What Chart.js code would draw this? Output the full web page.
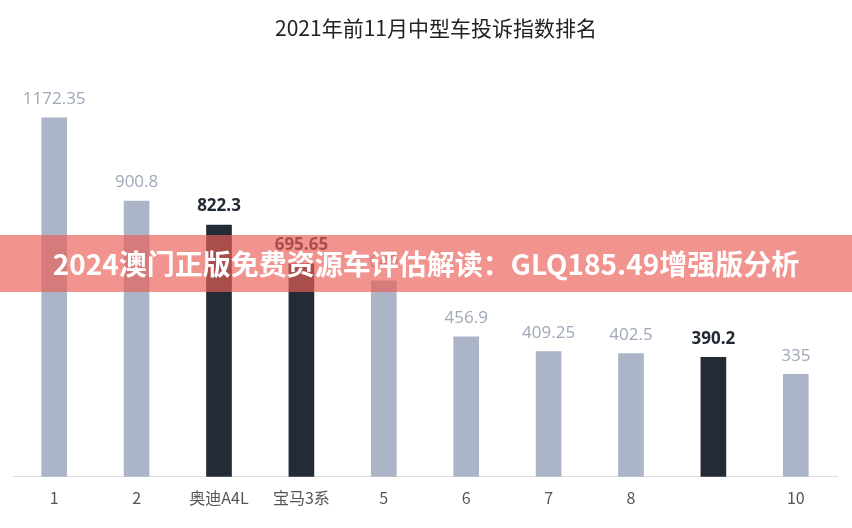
<!DOCTYPE html>
<html lang="zh-CN">
<head>
  <meta charset="UTF-8" />
  <title>2021年前11月中型车投诉指数排名</title>
  <script src="https://cdn.jsdelivr.net/npm/chart.js"></script>
  <style>
    html, body { margin: 0; padding: 0; background: #fff; }
    .wrap { position: relative; width: 852px; height: 528px; }
    #rankChart { display: block; }
    .chart-title {
      position: absolute; left: 20px; width: 832px; top: 12px; margin: 0;
      text-align: center; color: #222;
      font: normal 21px "Noto Sans CJK SC", sans-serif;
    }
    /* overlay banner across the middle */
    .banner {
      position: absolute; left: 0; top: 235px; width: 852px; height: 57px;
      background: rgba(234, 96, 88, 0.68);
      color: #fff; font: bold 28px "Noto Sans CJK SC", sans-serif;
      line-height: 57px; text-align: center;
    }
  </style>
</head>
<body>
  <div class="wrap">
    <canvas id="rankChart" width="852" height="528"></canvas>
    <h2 class="chart-title">2021年前11月中型车投诉指数排名</h2>
    <div class="banner">2024澳门正版免费资源车评估解读：GLQ185.49增强版分析</div>
  </div>

  <script>
    // data
    const categories = ['1', '2', '奥迪A4L', '宝马3系', '5', '6', '7', '8', '', '10'];
    const complaintIndex = [1172.35, 900.8, 822.3, 695.65, 640, 456.9, 409.25, 402.5, 390.2, 335];
    const highlightIndex = [2, 3, 8];

    const lightBar = '#abb5c7';
    const darkBar = '#232b37';

    // value labels above each bar
    const valueLabels = {
      id: 'valueLabels',
      afterDatasetsDraw(chart) {
        const ctx = chart.ctx;
        const meta = chart.getDatasetMeta(0);
        ctx.save();
        ctx.textAlign = 'center';
        ctx.textBaseline = 'bottom';
        meta.data.forEach((bar, i) => {
          const hi = highlightIndex.includes(i);
          ctx.font = (hi ? 'bold ' : '') + '17px "Open Sans", sans-serif';
          ctx.fillStyle = hi ? '#222a35' : '#9ea8b8';
          ctx.fillText(String(complaintIndex[i]), bar.x, bar.y - 10);
        });
        ctx.restore();
      }
    };

    const ctx = document.getElementById('rankChart').getContext('2d');
    const rankChart = new Chart(ctx, {
      type: 'bar',
      data: {
        labels: categories,
        datasets: [{
          data: complaintIndex,
          backgroundColor: complaintIndex.map((v, i) => highlightIndex.includes(i) ? darkBar : lightBar),
          barThickness: 25
        }]
      },
      options: {
        responsive: false,
        animation: false,
        layout: { padding: { left: 13, right: 15, top: 77, bottom: 8 } },
        plugins: {
          legend: { display: false },
          tooltip: { enabled: false }
        },
        scales: {
          x: {
            grid: { display: false, drawTicks: false },
            border: { display: true, color: '#dddddd', width: 1 },
            ticks: {
              color: '#555',
              padding: 12,
              font: { family: '"Noto Sans CJK SC", sans-serif', size: 16 }
            }
          },
          y: {
            display: false,
            min: 0,
            max: 1306
          }
        }
      },
      plugins: [valueLabels]
    });
  </script>
</body>
</html>
